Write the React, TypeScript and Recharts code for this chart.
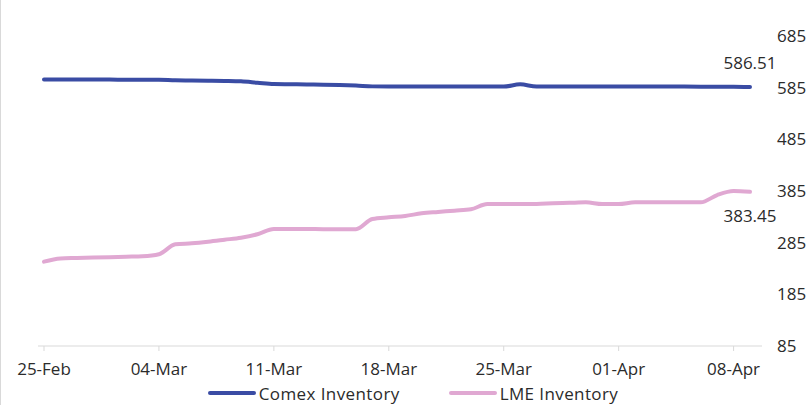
import * as React from 'react';
import { LineChart, Line, XAxis, YAxis, Legend, LabelList } from 'recharts';

const dates = [
  '25-Feb', '26-Feb', '27-Feb', '28-Feb', '01-Mar', '02-Mar', '03-Mar',
  '04-Mar', '05-Mar', '06-Mar', '07-Mar', '08-Mar', '09-Mar', '10-Mar',
  '11-Mar', '12-Mar', '13-Mar', '14-Mar', '15-Mar', '16-Mar', '17-Mar',
  '18-Mar', '19-Mar', '20-Mar', '21-Mar', '22-Mar', '23-Mar', '24-Mar',
  '25-Mar', '26-Mar', '27-Mar', '28-Mar', '29-Mar', '30-Mar', '31-Mar',
  '01-Apr', '02-Apr', '03-Apr', '04-Apr', '05-Apr', '06-Apr', '07-Apr',
  '08-Apr', '09-Apr'
];

const comex = [
  600.7, 600.7, 600.6, 600.6, 600.6, 600.5, 600.5,
  600.5, 599.3, 599.0, 598.6, 598.1, 597.2, 594.6,
  592.0, 591.6, 591.2, 590.7, 590.0, 589.0, 587.5,
  587.2, 587.2, 587.1, 587.1, 587.1, 587.1, 587.1,
  587.1, 591.4, 587.2, 587.1, 587.1, 587.1, 587.1,
  587.1, 587.1, 587.1, 587.1, 587.1, 587.0, 587.0,
  586.6, 586.51
];

const lme = [
  248.2, 254.5, 255.3, 256.1, 256.9, 257.8, 258.6,
  262.5, 281.8, 283.8, 286.9, 290.7, 294.6, 301.2,
  311.4, 311.3, 311.3, 311.2, 311.2, 311.2, 330.8,
  334.0, 336.6, 341.8, 344.5, 347.0, 349.6, 359.8,
  359.8, 359.9, 360.0, 361.2, 362.1, 363.0, 359.8,
  359.8, 363.0, 363.0, 363.1, 363.1, 363.1, 377.2,
  385.0, 383.45
];

const yTicks = [85, 185, 285, 385, 485, 585, 685];

const data = dates.map((d, i) => ({ date: d, comex: comex[i], lme: lme[i] }));

const BLUE = '#3A4CA4';
const PINK = '#E0A8D2';
const FONT = '"Open Sans", sans-serif';
const TEXT = '#2b2b2b';

const lastLabel = (color: string, dy: number) => (props: any) => {
  const { x, y, index, value } = props;
  if (index !== data.length - 1) return null;
  return (
    <text x={x} y={y + dy} textAnchor="middle" dominantBaseline="central"
      fontFamily={FONT} fontSize={17} fill={color}>
      {value}
    </text>
  );
};

const renderLegend = () => (
  <div style={{ display: 'flex', justifyContent: 'center', alignItems: 'center',
    fontFamily: FONT, fontSize: 17, letterSpacing: 0.4, color: TEXT, paddingRight: 19, height: 24 }}>
    <span style={{ display: 'inline-block', width: 48, height: 4, borderRadius: 2, background: BLUE, marginRight: 3 }} />
    <span>Comex Inventory</span>
    <span style={{ display: 'inline-block', width: 48, height: 4, borderRadius: 2, background: PINK, marginLeft: 49, marginRight: 3 }} />
    <span>LME Inventory</span>
  </div>
);

const App = () => {
  return (
    <div style={{ position: 'absolute', left: 0, top: 0, width: 807, height: 405,
      background: '#fff', borderLeft: '1px solid #d9d9d9', boxSizing: 'border-box' }}>
      <LineChart
        width={806}
        height={405}
        data={data}
        margin={{ top: 36, right: 0, left: 37, bottom: 0 }}
      >
        <XAxis
          dataKey="date"
          interval={6}
          padding={{ left: 6, right: 12 }}
          axisLine={{ stroke: '#d9d9d9' }}
          tickLine={{ stroke: '#d9d9d9' }}
          tickSize={5}
          tickMargin={12}
          height={35}
          tick={{ fontFamily: FONT, fontSize: 17, fill: TEXT }}
        />
        <YAxis
          orientation="right"
          domain={[85, 685]}
          ticks={yTicks}
          width={45}
          axisLine={false}
          tickLine={false}
          tickSize={0}
          tickMargin={15}
          tick={{ fontFamily: FONT, fontSize: 17, fill: TEXT }}
        />
        <Legend verticalAlign="bottom" height={24} content={renderLegend} />
        <Line
          type="monotone"
          dataKey="comex"
          stroke={BLUE}
          strokeWidth={4}
          strokeLinecap="round"
          dot={false}
          isAnimationActive={false}
        >
          <LabelList dataKey="comex" content={lastLabel(TEXT, -24)} />
        </Line>
        <Line
          type="monotone"
          dataKey="lme"
          stroke={PINK}
          strokeWidth={4}
          strokeLinecap="round"
          dot={false}
          isAnimationActive={false}
        >
          <LabelList dataKey="lme" content={lastLabel(TEXT, 24)} />
        </Line>
      </LineChart>
    </div>
  );
};

export default App;
